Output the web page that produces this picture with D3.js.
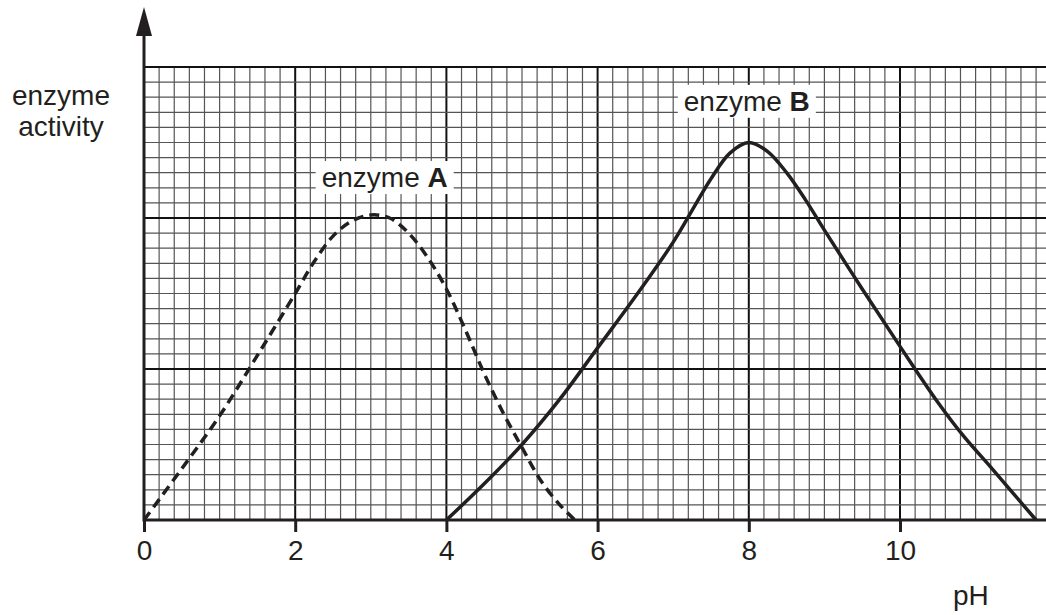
<!DOCTYPE html>
<html>
<head>
<meta charset="utf-8">
<script src="https://cdn.jsdelivr.net/npm/d3@7"></script>
<style>
  html, body { margin: 0; padding: 0; background: #fff; }
  svg { display: block; }
  text { font-family: "Liberation Sans", Arial, Helvetica, sans-serif; fill: #231f20; }
</style>
</head>
<body>
<svg id="chart" width="1046" height="615"></svg>
<script>
// ---- data ----
const xTickLabels = [0, 2, 4, 6, 8, 10];
const phA  = [0, 0.5, 1, 1.5, 2, 2.25, 2.5, 2.75, 3, 3.25, 3.5, 3.75, 4, 4.25, 4.5, 4.75, 5, 5.25, 5.5, 5.7];
const actA = [0, 3.4, 6.9, 10.9, 15.0, 17.1, 18.8, 19.8, 20.2, 20.0, 19.0, 17.4, 15.3, 12.6, 9.7, 7.1, 4.8, 2.6, 1.0, 0];
const phB  = [4, 4.5, 5, 5.5, 6, 6.5, 7, 7.5, 7.75, 8, 8.25, 8.5, 8.75, 9, 9.5, 10, 10.5, 10.85, 11.2, 11.5, 11.8];
const actB = [0, 2.4, 5.0, 8.0, 11.4, 14.8, 18.4, 22.6, 24.3, 25.0, 24.4, 23.0, 21.2, 19.2, 15.3, 11.5, 7.8, 5.5, 3.5, 1.75, 0];
const labelA = "enzyme ", labelABold = "A";
const labelB = "enzyme ", labelBBold = "B";
const yTitle = ["enzyme", "activity"];
const xTitle = "pH";

// ---- layout ----
const ink = "#231f20";
const svg = d3.select("#chart");
const x = d3.scaleLinear().domain([0, 12]).range([144, 144 + 12 * 75.6]);
const y = d3.scaleLinear().domain([0, 30]).range([520, 67]);

// grid
const grid = svg.append("g");
const xMinor = d3.range(0, 12.01, 0.2);
const yMinor = d3.range(0, 30.01, 1);
grid.selectAll("line.vx").data(xMinor).join("line")
  .attr("x1", d => x(d)).attr("x2", d => x(d))
  .attr("y1", y(0)).attr("y2", y(30))
  .attr("stroke", d => Math.round(d * 5) % 10 === 0 ? "#111" : "#555")
  .attr("stroke-width", d => Math.round(d * 5) % 10 === 0 ? 2 : 1.2);
grid.selectAll("line.hy").data(yMinor).join("line")
  .attr("x1", x(0)).attr("x2", x(12))
  .attr("y1", d => y(d)).attr("y2", d => y(d))
  .attr("stroke", d => d % 10 === 0 ? "#111" : "#555")
  .attr("stroke-width", d => d % 10 === 0 ? 2 : 1.2);

// x axis
const xAxis = d3.axisBottom(x).tickValues(xTickLabels).tickSize(12).tickPadding(8).tickFormat(d3.format("d"));
const gx = svg.append("g").attr("transform", `translate(0,${y(0)})`).call(xAxis);
gx.select(".domain").remove();
gx.selectAll(".tick line").attr("stroke", ink).attr("stroke-width", 3);
gx.selectAll(".tick text").attr("font-size", 28).attr("fill", ink)
  .attr("font-family", '"Liberation Sans", Arial, sans-serif');
svg.append("line").attr("x1", x(0)).attr("x2", 1046).attr("y1", y(0)).attr("y2", y(0))
  .attr("stroke", ink).attr("stroke-width", 3);

// y axis with arrow
svg.append("line").attr("x1", x(0)).attr("x2", x(0)).attr("y1", y(0) + 1.5).attr("y2", 30)
  .attr("stroke", ink).attr("stroke-width", 3);
svg.append("path").attr("d", `M${x(0)},7 L${x(0) - 8},36 L${x(0) + 8},36 Z`).attr("fill", ink);

// curves
const line = d3.line().x(d => x(d[0])).y(d => y(d[1])).curve(d3.curveCatmullRom.alpha(0.5));
svg.append("path").datum(phA.map((p, i) => [p, actA[i]]))
  .attr("d", line).attr("fill", "none").attr("stroke", ink)
  .attr("stroke-width", 3.5).attr("stroke-dasharray", "10,6");
svg.append("path").datum(phB.map((p, i) => [p, actB[i]]))
  .attr("d", line).attr("fill", "none").attr("stroke", ink)
  .attr("stroke-width", 3.5);

// curve labels with white boxes
function boxLabel(px, py, plain, bold) {
  const g = svg.append("g");
  const rect = g.append("rect").attr("fill", "#fff");
  const t = g.append("text").attr("x", px).attr("y", py).attr("font-size", 28);
  t.append("tspan").text(plain);
  t.append("tspan").attr("font-weight", "bold").text(bold);
  const b = t.node().getBBox();
  rect.attr("x", b.x - 6).attr("y", b.y - 1).attr("width", b.width + 12).attr("height", b.height + 2);
}
boxLabel(x(2.35), y(22.05), labelA, labelABold);
boxLabel(x(7.14), y(27.1), labelB, labelBBold);

// axis titles
const yt = svg.append("text").attr("text-anchor", "middle").attr("font-size", 28);
yt.selectAll("tspan").data(yTitle).join("tspan")
  .attr("x", 61).attr("y", (d, i) => 105 + i * 31).text(d => d);
svg.append("text").attr("x", 953).attr("y", 605).attr("font-size", 28).text(xTitle);
</script>
</body>
</html>
